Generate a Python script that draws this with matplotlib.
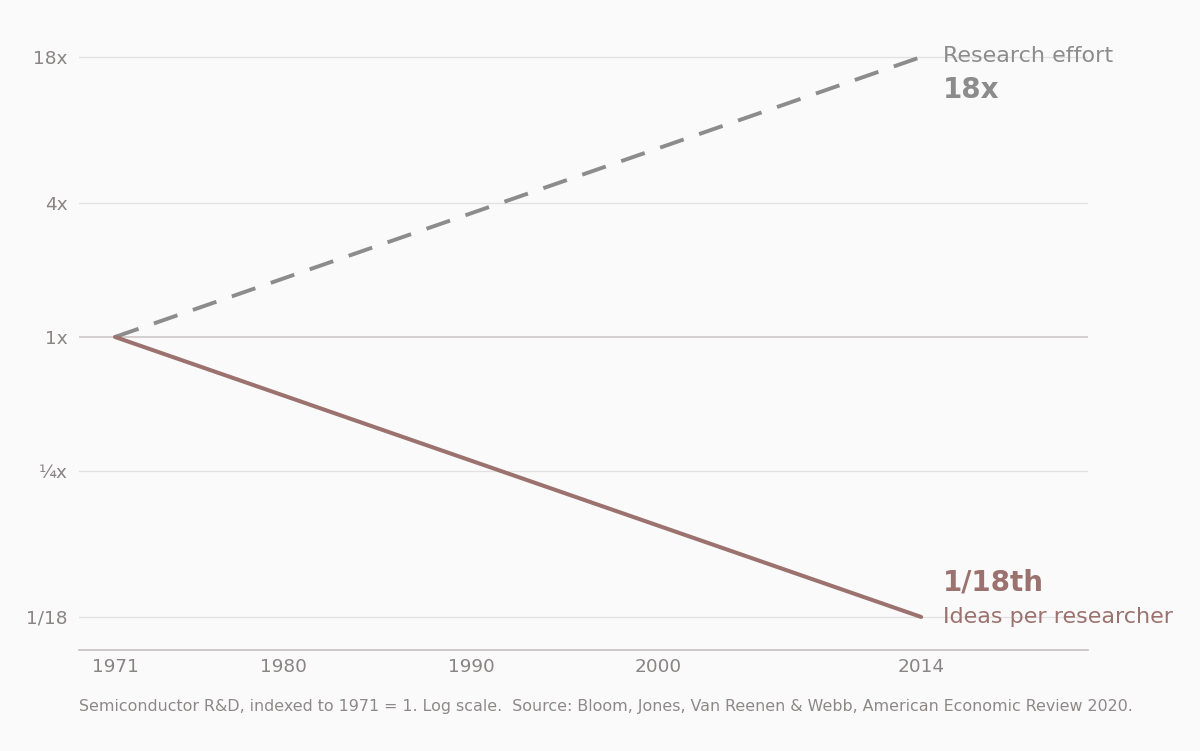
import matplotlib.pyplot as plt
from matplotlib.ticker import FixedLocator, NullLocator

years = [1971, 2014]
research_effort = [1, 18]
ideas_per_researcher = [1, 1 / 18]

x_ticks = [1971, 1980, 1990, 2000, 2014]
y_ticks = [1 / 18, 1 / 4, 1, 4, 18]
y_tick_labels = ['1/18', '¼x', '1x', '4x', '18x']

bg = '#fafafa'
gray = '#8c8c8c'
brown = '#9c726f'
tick_col = '#8a8484'

fig = plt.figure(figsize=(12, 7.51), dpi=100, facecolor=bg)
ax = fig.add_axes([79 / 1200, 1 - 650 / 751, (1088 - 79) / 1200, (650 - 24) / 751])
ax.set_facecolor(bg)

ax.set_yscale('log')
ax.set_xlim(1969.08, 2022.9)
ax.set_ylim(0.0395, 25.3)

# grid lines
for v in y_ticks:
    if v == 1:
        ax.axhline(v, color='#c9c4c4', lw=1.1, zorder=1)
    else:
        ax.axhline(v, color='#e2e0e0', lw=0.9, zorder=1)

ax.plot(years, research_effort, color=gray, lw=2.8, dashes=(6.4, 4.2),
        solid_capstyle='butt', zorder=3)
ax.plot(years, ideas_per_researcher, color=brown, lw=2.9,
        solid_capstyle='round', zorder=3)

ax.yaxis.set_major_locator(FixedLocator(y_ticks))
ax.yaxis.set_minor_locator(NullLocator())
ax.set_yticklabels(y_tick_labels)
ax.set_xticks(x_ticks)
ax.set_xticklabels([str(y) for y in x_ticks])
ax.tick_params(axis='both', length=0, labelsize=13.3, colors=tick_col)
ax.tick_params(axis='y', pad=8)
ax.tick_params(axis='x', pad=6)

for s in ['top', 'right', 'left']:
    ax.spines[s].set_visible(False)
ax.spines['bottom'].set_color('#c8c0c0')
ax.spines['bottom'].set_linewidth(1.2)

# end labels
ax.annotate('Research effort', xy=(2014, 18), xytext=(16, 1), textcoords='offset points',
            color=gray, fontsize=16, va='center', ha='left', annotation_clip=False)
ax.annotate('18x', xy=(2014, 18), xytext=(16, -24), textcoords='offset points',
            color=gray, fontsize=20, fontweight='bold', va='center', ha='left',
            annotation_clip=False)
ax.annotate('1/18th', xy=(2014, 1 / 18), xytext=(16, 25), textcoords='offset points',
            color=brown, fontsize=20, fontweight='bold', va='center', ha='left',
            annotation_clip=False)
ax.annotate('Ideas per researcher', xy=(2014, 1 / 18), xytext=(16, 0), textcoords='offset points',
            color=brown, fontsize=16, va='center', ha='left', annotation_clip=False)

fig.text(79 / 1200, 1 - 707 / 751,
         'Semiconductor R&D, indexed to 1971 = 1. Log scale.  Source: Bloom, Jones, '
         'Van Reenen & Webb, American Economic Review 2020.',
         color='#8e8888', fontsize=11.4, va='center', ha='left')

fig.savefig('out.png', dpi=100, facecolor=bg)
